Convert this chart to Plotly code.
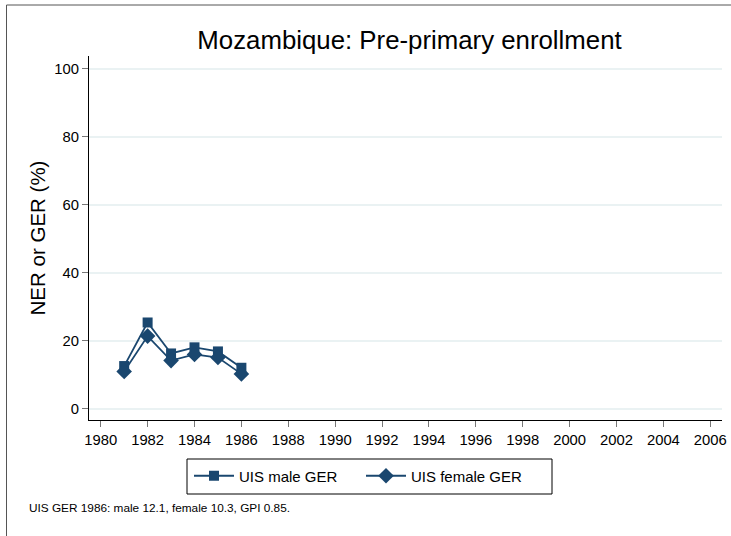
import plotly.graph_objects as go

years = [1981, 1982, 1983, 1984, 1985, 1986]
male_ger = [12.6, 25.4, 16.3, 18.1, 16.9, 12.1]
female_ger = [11.0, 21.4, 14.2, 16.0, 15.1, 10.3]
x_ticks = list(range(1980, 2007, 2))
y_ticks = [0, 20, 40, 60, 80, 100]

navy = "#1a476f"
font = "Liberation Sans, Arial, sans-serif"

L, R, T, B = 89, 9, 56, 116
W, H = 731, 536
pw, ph = W - L - R, H - T - B


def px_x(v):
    return (v - L) / pw


def px_y(v):
    return (H - B - v) / ph


fig = go.Figure()
fig.add_trace(go.Scatter(x=years, y=male_ger, mode="lines+markers", name="UIS male GER",
                         line=dict(color=navy, width=1.8),
                         marker=dict(symbol="square", size=10, color=navy)))
fig.add_trace(go.Scatter(x=years, y=female_ger, mode="lines+markers", name="UIS female GER",
                         line=dict(color=navy, width=1.8),
                         marker=dict(symbol="diamond", size=12, color=navy)))

fig.update_layout(
    width=W, height=H,
    margin=dict(l=L, r=R, t=T, b=B, autoexpand=False),
    paper_bgcolor="white", plot_bgcolor="white",
    font=dict(family=font, size=14, color="black"),
    title=dict(text="Mozambique: Pre-primary enrollment", x=409.5 / W, xanchor="center",
               y=1 - 40 / H, yanchor="middle", font=dict(size=25.8, color="black")),
    showlegend=True,
    legend=dict(orientation="h", x=px_x(189), xanchor="left",
                y=px_y(476), yanchor="middle",
                borderwidth=0, bgcolor="rgba(0,0,0,0)", font=dict(size=15),
                itemwidth=40, entrywidth=117),
    xaxis=dict(range=[1979.5, 2006.5], tickvals=x_ticks, showgrid=False, zeroline=False,
               showline=True, linecolor="black", linewidth=1.2,
               ticks="outside", ticklen=6, tickcolor="#777", tickfont=dict(size=14.8)),
    yaxis=dict(range=[-3.25, 103.7], tickvals=y_ticks, showgrid=True, gridcolor="#eaf2f3",
               gridwidth=1.5, zeroline=False, showline=True, linecolor="black", linewidth=1.2,
               ticks="outside", ticklen=6, tickcolor="#777", tickfont=dict(size=14.8),
               title=dict(text="NER or GER (%)", font=dict(size=20.5), standoff=3)),
    shapes=[
        dict(type="rect", xref="paper", yref="paper",
             x0=px_x(6.5), x1=px_x(W + 10), y0=px_y(H + 10), y1=px_y(5),
             line=dict(color="#555", width=1), fillcolor="rgba(0,0,0,0)", layer="below"),
        dict(type="rect", xref="paper", yref="paper",
             x0=px_x(187), x1=px_x(552), y0=px_y(494), y1=px_y(459),
             line=dict(color="black", width=1), fillcolor="rgba(0,0,0,0)", layer="below"),
    ],
    annotations=[dict(text="UIS GER 1986: male 12.1, female 10.3, GPI 0.85.",
                      xref="paper", yref="paper", x=px_x(27), y=px_y(508),
                      xanchor="left", yanchor="middle", showarrow=False,
                      font=dict(size=11.8, color="black"))],
)

fig.write_html("out.html", config={"displayModeBar": False},
               post_script="document.body.style.margin='0';document.body.style.overflow='hidden';")
